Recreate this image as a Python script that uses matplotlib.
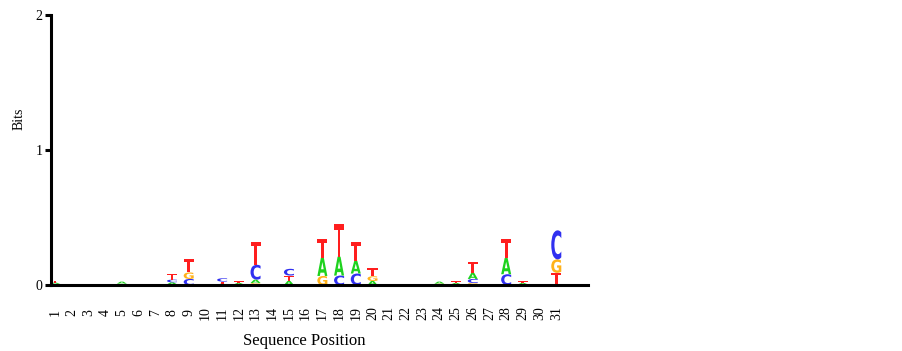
import matplotlib
matplotlib.use("Agg")
import matplotlib.pyplot as plt
from matplotlib.textpath import TextPath
from matplotlib.patches import PathPatch
from matplotlib.font_manager import FontProperties
from matplotlib.transforms import Affine2D

positions = list(range(1, 32))
tick_labels = [str(p) for p in positions]

# information content (bits) of each base at positions 1..31
bits_A = [0.010, 0, 0, 0, 0.015, 0, 0, 0.015, 0, 0, 0.010, 0.010, 0.025, 0, 0.030, 0,
          0.135, 0.140, 0.095, 0.030, 0, 0, 0, 0.015, 0.010, 0.045, 0, 0.120, 0.010, 0, 0]
bits_C = [0.008, 0, 0, 0, 0, 0, 0, 0.020, 0.045, 0, 0.025, 0, 0.110, 0, 0.050, 0,
          0, 0.070, 0.085, 0, 0, 0, 0, 0, 0, 0.030, 0, 0.080, 0, 0, 0.215]
bits_G = [0, 0, 0, 0, 0.005, 0, 0, 0.005, 0.048, 0, 0, 0.005, 0.015, 0, 0, 0,
          0.067, 0, 0, 0.035, 0, 0, 0, 0.010, 0.005, 0.015, 0, 0, 0.005, 0, 0.100]
bits_T = [0.012, 0, 0, 0, 0.005, 0, 0, 0.040, 0.100, 0, 0.015, 0.012, 0.170, 0, 0.040, 0,
          0.140, 0.245, 0.140, 0.060, 0, 0, 0, 0, 0.012, 0.080, 0, 0.140, 0.012, 0, 0.090]

colors = {"A": "#1ed21e", "C": "#3030f0", "G": "#ffb21a", "T": "#ff1e1e"}
letter_font = FontProperties(family="DejaVu Sans", weight="bold")
serif = "Liberation Serif"


def draw_letter(ax, ch, x, y, w, h):
    tp = TextPath((0, 0), ch, size=1, prop=letter_font)
    bb = tp.get_extents()
    t = Affine2D().translate(-bb.x0, -bb.y0).scale(w / bb.width, h / bb.height).translate(x - w / 2, y)
    ax.add_patch(PathPatch(t.transform_path(tp), fc=colors[ch], ec="none", lw=0))


fig = plt.figure(figsize=(9.03, 3.51), dpi=100)
ax = fig.add_axes([0.0565, 0.188, 0.5947, 0.769])

for i, p in enumerate(positions):
    stack = [("A", bits_A[i]), ("C", bits_C[i]), ("G", bits_G[i]), ("T", bits_T[i])]
    stack = sorted([s for s in stack if s[1] > 0], key=lambda s: s[1])
    y = 0
    for ch, h in stack:
        draw_letter(ax, ch, p, y, 0.6, h)
        y += h

ax.set_xlim(0.76, 32.9)
ax.set_ylim(0, 2)
ax.spines["top"].set_visible(False)
ax.spines["right"].set_visible(False)
ax.spines["left"].set_linewidth(2.2)
ax.spines["bottom"].set_linewidth(2.2)

ax.set_yticks([0, 1, 2])
ax.set_yticklabels(["0", "1", "2"], fontfamily=serif, fontsize=10)
ax.tick_params(axis="y", length=4, width=2.2, pad=2)

ax.set_xticks(positions)
ax.set_xticklabels(tick_labels, rotation=90, va="center", fontfamily=serif, fontsize=10)
ax.tick_params(axis="x", length=0, pad=20)

ax.set_xlabel("Sequence Position", fontfamily=serif, fontsize=12)
ax.xaxis.set_label_coords(0.471, -0.178)
ax.set_ylabel("Bits", fontfamily=serif, fontsize=10)
ax.yaxis.set_label_coords(-0.048, 0.615)

fig.savefig("out.png", dpi=100)
